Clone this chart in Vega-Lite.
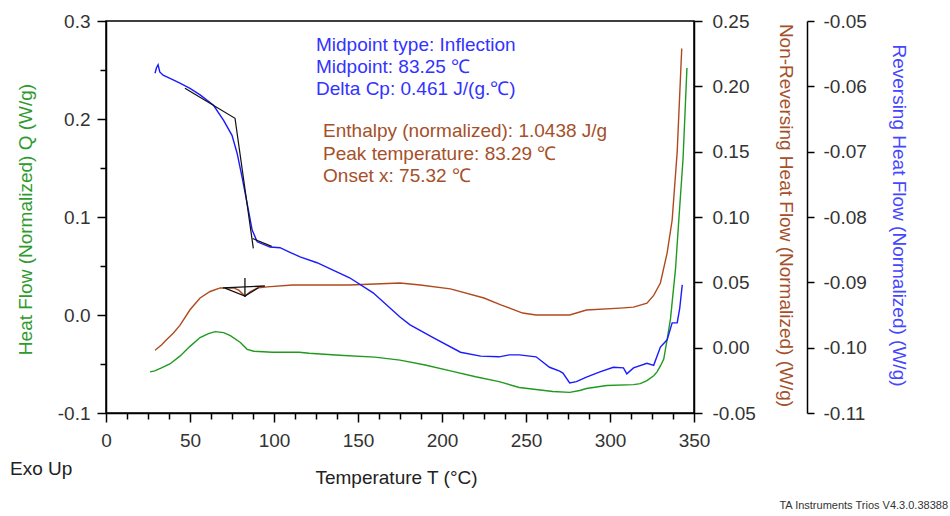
{
  "$schema": "https://vega.github.io/schema/vega-lite/v6.json",
  "width": 588,
  "height": 392,
  "autosize": {"type": "none"},
  "padding": {"left": 106, "top": 21, "right": 256, "bottom": 103},
  "background": "white",
  "config": {
    "font": "Liberation Sans",
    "view": {"stroke": "#000", "strokeWidth": 1.5},
    "axis": {
      "grid": false,
      "domainColor": "#000",
      "domainWidth": 1.5,
      "tickColor": "#000",
      "tickWidth": 1.5,
      "labelFont": "Liberation Sans",
      "labelFontSize": 19,
      "labelColor": "#333",
      "labelOverlap": false,
      "labelFlush": false,
      "labelBound": false,
      "titleFont": "Liberation Sans",
      "titleFontSize": 19,
      "titleFontWeight": "normal"
    }
  },
  "datasets": {
    "total": [
      {"T": 26.2, "v": -0.058}, {"T": 29, "v": -0.057}, {"T": 33, "v": -0.054}, {"T": 38, "v": -0.05},
      {"T": 44, "v": -0.042}, {"T": 50, "v": -0.032}, {"T": 56, "v": -0.023}, {"T": 61, "v": -0.019},
      {"T": 65, "v": -0.017}, {"T": 70, "v": -0.018}, {"T": 74, "v": -0.021}, {"T": 80, "v": -0.028},
      {"T": 84, "v": -0.035}, {"T": 88, "v": -0.037}, {"T": 99, "v": -0.038}, {"T": 115, "v": -0.038},
      {"T": 121, "v": -0.039}, {"T": 139, "v": -0.041}, {"T": 160, "v": -0.043}, {"T": 175, "v": -0.046},
      {"T": 190, "v": -0.051}, {"T": 205, "v": -0.057}, {"T": 220, "v": -0.063}, {"T": 234, "v": -0.068},
      {"T": 246, "v": -0.074}, {"T": 256, "v": -0.076}, {"T": 266, "v": -0.078}, {"T": 276, "v": -0.079},
      {"T": 282, "v": -0.077}, {"T": 286, "v": -0.075}, {"T": 298, "v": -0.072}, {"T": 314, "v": -0.071},
      {"T": 318, "v": -0.07}, {"T": 322, "v": -0.067}, {"T": 326, "v": -0.062}, {"T": 328, "v": -0.058},
      {"T": 330, "v": -0.052}, {"T": 332, "v": -0.045}, {"T": 334, "v": -0.025}, {"T": 336, "v": -0.004},
      {"T": 339, "v": 0.047}, {"T": 341, "v": 0.098}, {"T": 343.5, "v": 0.16}, {"T": 345.8, "v": 0.252}
    ],
    "nonrev": [
      {"T": 29.2, "v": -0.002}, {"T": 33, "v": 0.002}, {"T": 36, "v": 0.006}, {"T": 40, "v": 0.011},
      {"T": 44, "v": 0.017}, {"T": 50, "v": 0.029}, {"T": 56, "v": 0.038}, {"T": 62, "v": 0.043},
      {"T": 68, "v": 0.0457}, {"T": 76, "v": 0.0457}, {"T": 79, "v": 0.044}, {"T": 82.7, "v": 0.0395},
      {"T": 86, "v": 0.043}, {"T": 90.7, "v": 0.0459}, {"T": 96, "v": 0.0465}, {"T": 111, "v": 0.048},
      {"T": 127, "v": 0.048}, {"T": 145, "v": 0.048}, {"T": 175, "v": 0.0495}, {"T": 187, "v": 0.048},
      {"T": 205, "v": 0.045}, {"T": 225, "v": 0.038}, {"T": 235, "v": 0.0327}, {"T": 248, "v": 0.0265},
      {"T": 256, "v": 0.025}, {"T": 276, "v": 0.025}, {"T": 286, "v": 0.0288}, {"T": 306, "v": 0.0303},
      {"T": 314, "v": 0.031}, {"T": 322, "v": 0.034}, {"T": 326, "v": 0.04}, {"T": 330, "v": 0.0495},
      {"T": 334, "v": 0.0724}, {"T": 337, "v": 0.0977}, {"T": 340, "v": 0.15}, {"T": 342.7, "v": 0.229}
    ],
    "rev": [
      {"T": 29.2, "v": -0.058}, {"T": 30, "v": -0.0572}, {"T": 31, "v": -0.0567}, {"T": 32, "v": -0.0578},
      {"T": 34, "v": -0.0583}, {"T": 40, "v": -0.059}, {"T": 44, "v": -0.0595}, {"T": 50, "v": -0.0603},
      {"T": 56, "v": -0.0613}, {"T": 64, "v": -0.0629}, {"T": 70, "v": -0.0652}, {"T": 75, "v": -0.0675},
      {"T": 78, "v": -0.0702}, {"T": 81, "v": -0.0739}, {"T": 84, "v": -0.0779}, {"T": 87, "v": -0.082},
      {"T": 90, "v": -0.0838}, {"T": 97.6, "v": -0.0846}, {"T": 103.6, "v": -0.0847}, {"T": 109.5, "v": -0.0854},
      {"T": 115.5, "v": -0.0861}, {"T": 125.6, "v": -0.087}, {"T": 145, "v": -0.0893}, {"T": 159, "v": -0.0916},
      {"T": 175, "v": -0.0953}, {"T": 181, "v": -0.0965}, {"T": 195, "v": -0.0985}, {"T": 211, "v": -0.1007},
      {"T": 223, "v": -0.1013}, {"T": 234, "v": -0.1014}, {"T": 240, "v": -0.1011}, {"T": 246, "v": -0.1011},
      {"T": 256, "v": -0.1014}, {"T": 264, "v": -0.103}, {"T": 270, "v": -0.1036}, {"T": 272, "v": -0.1039},
      {"T": 276, "v": -0.1054}, {"T": 280, "v": -0.1052}, {"T": 286, "v": -0.1045}, {"T": 294, "v": -0.1037},
      {"T": 302, "v": -0.103}, {"T": 308, "v": -0.1031}, {"T": 310, "v": -0.104}, {"T": 314, "v": -0.1031},
      {"T": 322, "v": -0.1024}, {"T": 326, "v": -0.1027}, {"T": 330, "v": -0.0999}, {"T": 334, "v": -0.0988},
      {"T": 337, "v": -0.0962}, {"T": 340, "v": -0.0962}, {"T": 341.5, "v": -0.094}, {"T": 343, "v": -0.0904}
    ],
    "peakMarks": [
      {"seg": "baseline", "i": 0, "T": 69.6, "v": 0.0457}, {"seg": "baseline", "i": 1, "T": 94.6, "v": 0.0472},
      {"seg": "cross", "i": 0, "T": 82.7, "v": 0.0533}, {"seg": "cross", "i": 1, "T": 82.7, "v": 0.0388},
      {"seg": "dip", "i": 0, "T": 70.8, "v": 0.0455}, {"seg": "dip", "i": 1, "T": 82.7, "v": 0.0395},
      {"seg": "dip", "i": 2, "T": 90.7, "v": 0.0459}
    ],
    "glassMarks": [
      {"seg": "upper", "i": 0, "T": 47, "v": -0.0603}, {"seg": "upper", "i": 1, "T": 76.8, "v": -0.0649},
      {"seg": "upper", "i": 2, "T": 87.7, "v": -0.0848},
      {"seg": "lower", "i": 0, "T": 87.3, "v": -0.0833}, {"seg": "lower", "i": 1, "T": 98.6, "v": -0.0845}
    ],
    "glassNotes": [
      {"label": "Midpoint type: Inflection", "T": 125, "v": 0.2755},
      {"label": "Midpoint: 83.25 ℃", "T": 125, "v": 0.2531},
      {"label": "Delta Cp: 0.461 J/(g.℃)", "T": 125, "v": 0.2306}
    ],
    "peakNotes": [
      {"label": "Enthalpy (normalized): 1.0438 J/g", "T": 129.2, "v": 0.1878},
      {"label": "Peak temperature: 83.29 ℃", "T": 129.2, "v": 0.1643},
      {"label": "Onset x: 75.32 ℃", "T": 129.2, "v": 0.1418}
    ],
    "exo": [{"label": "Exo Up", "T": -57.1, "v": -0.1571}],
    "footer": [{"label": "TA Instruments Trios V4.3.0.38388", "T": 501.2, "v": -0.1949}]
  },
  "encoding": {
    "x": {
      "field": "T",
      "type": "quantitative",
      "scale": {"domain": [0, 350], "nice": false, "zero": false},
      "axis": {
        "title": "Temperature  T  (°C)",
        "titleColor": "#222",
        "titleX": 290,
        "titleY": 64,
        "titleBaseline": "middle",
        "titleAlign": "center",
        "values": [0, 12.5, 25, 37.5, 50, 62.5, 75, 87.5, 100, 112.5, 125, 137.5, 150, 162.5, 175, 187.5, 200, 212.5, 225, 237.5, 250, 262.5, 275, 287.5, 300, 312.5, 325, 337.5, 350],
        "labelExpr": "datum.value % 50 == 0 ? format(datum.value, 'd') : ''",
        "tickSize": {"condition": {"test": "datum.value % 50 == 0", "value": 9}, "value": 6},
        "labelPadding": 9
      }
    }
  },
  "layer": [
    {
      "layer": [
        {
          "data": {"name": "total"},
          "mark": {"type": "line", "color": "#1f9a1f", "strokeWidth": 1.4},
          "encoding": {
            "y": {
              "field": "v",
              "type": "quantitative",
              "scale": {"domain": [-0.1, 0.3], "nice": false, "zero": false},
              "axis": {
                "orient": "left",
                "title": "Heat Flow (Normalized)  Q  (W/g)",
                "titleColor": "#2e9a2e",
                "titleAngle": -90,
                "titleX": -81,
                "titleY": 198,
                "titleBaseline": "middle",
                "titleAlign": "center",
                "values": [-0.1, -0.075, -0.05, -0.025, 0, 0.025, 0.05, 0.075, 0.1, 0.125, 0.15, 0.175, 0.2, 0.225, 0.25, 0.275, 0.3],
                "labelExpr": "abs(datum.value*10 - round(datum.value*10)) < 0.01 ? replace(format(datum.value, '.1f'), '−', '-') : ''",
                "tickSize": {"condition": {"test": "abs(datum.value*10 - round(datum.value*10)) < 0.01", "value": 9}, "value": 6},
                "labelPadding": 7
              }
            }
          }
        },
        {
          "data": {"name": "glassNotes"},
          "mark": {"type": "text", "align": "left", "baseline": "middle", "fontSize": 19, "color": "#3333ff"},
          "encoding": {"y": {"field": "v", "type": "quantitative"}, "text": {"field": "label"}}
        },
        {
          "data": {"name": "peakNotes"},
          "mark": {"type": "text", "align": "left", "baseline": "middle", "fontSize": 19, "color": "#a5502a"},
          "encoding": {"y": {"field": "v", "type": "quantitative"}, "text": {"field": "label"}}
        },
        {
          "data": {"name": "exo"},
          "mark": {"type": "text", "align": "left", "baseline": "middle", "fontSize": 19, "color": "#222"},
          "encoding": {"y": {"field": "v", "type": "quantitative"}, "text": {"field": "label"}}
        },
        {
          "data": {"name": "footer"},
          "mark": {"type": "text", "align": "right", "baseline": "middle", "fontSize": 11, "color": "#333"},
          "encoding": {"y": {"field": "v", "type": "quantitative"}, "text": {"field": "label"}}
        }
      ]
    },
    {
      "layer": [
        {
          "data": {"name": "nonrev"},
          "mark": {"type": "line", "color": "#b04a1e", "strokeWidth": 1.4},
          "encoding": {
            "y": {
              "field": "v",
              "type": "quantitative",
              "scale": {"domain": [-0.05, 0.25], "nice": false, "zero": false},
              "axis": {
                "orient": "right",
                "title": "Non-Reversing Heat Flow (Normalized)  (W/g)",
                "titleColor": "#a5502a",
                "titleAngle": 90,
                "titleX": 91,
                "titleY": 194,
                "titleBaseline": "middle",
                "titleAlign": "center",
                "values": [-0.05, -0.0375, -0.025, -0.0125, 0, 0.0125, 0.025, 0.0375, 0.05, 0.0625, 0.075, 0.0875, 0.1, 0.1125, 0.125, 0.1375, 0.15, 0.1625, 0.175, 0.1875, 0.2, 0.2125, 0.225, 0.2375, 0.25],
                "labelExpr": "abs(datum.value*20 - round(datum.value*20)) < 0.01 ? replace(format(datum.value, '.2f'), '−', '-') : ''",
                "tickSize": {"condition": {"test": "abs(datum.value*20 - round(datum.value*20)) < 0.01", "value": 8}, "value": 6},
                "labelPadding": 10
              }
            }
          }
        },
        {
          "data": {"name": "peakMarks"},
          "mark": {"type": "line", "color": "#111", "strokeWidth": 1.3},
          "encoding": {
            "y": {"field": "v", "type": "quantitative"},
            "detail": {"field": "seg"},
            "order": {"field": "i"}
          }
        }
      ]
    },
    {
      "layer": [
        {
          "data": {"name": "rev"},
          "mark": {"type": "line", "color": "#1a1aff", "strokeWidth": 1.4},
          "encoding": {
            "y": {
              "field": "v",
              "type": "quantitative",
              "scale": {"domain": [-0.11, -0.05], "nice": false, "zero": false},
              "axis": {
                "orient": "right",
                "offset": 113,
                "title": "Reversing Heat Flow (Normalized)  (W/g)",
                "titleColor": "#4646ff",
                "titleAngle": 90,
                "titleX": 91,
                "titleY": 194,
                "titleBaseline": "middle",
                "titleAlign": "center",
                "values": [-0.11, -0.1075, -0.105, -0.1025, -0.1, -0.0975, -0.095, -0.0925, -0.09, -0.0875, -0.085, -0.0825, -0.08, -0.0775, -0.075, -0.0725, -0.07, -0.0675, -0.065, -0.0625, -0.06, -0.0575, -0.055, -0.0525, -0.05],
                "labelExpr": "abs(datum.value*100 - round(datum.value*100)) < 0.01 ? replace(format(datum.value, '.2f'), '−', '-') : ''",
                "tickSize": {"condition": {"test": "abs(datum.value*100 - round(datum.value*100)) < 0.01", "value": 7}, "value": 5},
                "labelPadding": 9
              }
            }
          }
        },
        {
          "data": {"name": "glassMarks"},
          "mark": {"type": "line", "color": "#111", "strokeWidth": 1.2},
          "encoding": {
            "y": {"field": "v", "type": "quantitative"},
            "detail": {"field": "seg"},
            "order": {"field": "i"}
          }
        }
      ]
    }
  ],
  "resolve": {"scale": {"y": "independent"}}
}
